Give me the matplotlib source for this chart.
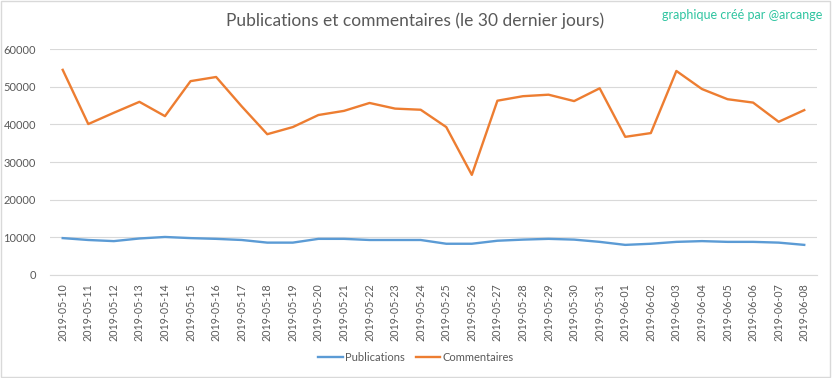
#publications et commentaires - 30 derniers jours
import matplotlib
matplotlib.use('Agg')
import matplotlib.pyplot as plt

dates = ['2019-05-10', '2019-05-11', '2019-05-12', '2019-05-13', '2019-05-14',
         '2019-05-15', '2019-05-16', '2019-05-17', '2019-05-18', '2019-05-19',
         '2019-05-20', '2019-05-21', '2019-05-22', '2019-05-23', '2019-05-24',
         '2019-05-25', '2019-05-26', '2019-05-27', '2019-05-28', '2019-05-29',
         '2019-05-30', '2019-05-31', '2019-06-01', '2019-06-02', '2019-06-03',
         '2019-06-04', '2019-06-05', '2019-06-06', '2019-06-07', '2019-06-08']

publications = [9800, 9300, 9000, 9700, 10100, 9800, 9600, 9300, 8600, 8600,
                9600, 9600, 9300, 9300, 9300, 8300, 8300, 9100, 9400, 9600,
                9400, 8800, 8000, 8300, 8800, 9000, 8800, 8800, 8600, 8000]

commentaires = [54500, 40100, 43100, 46000, 42200, 51500, 52600, 44800, 37400, 39300,
                42500, 43600, 45700, 44200, 43900, 39300, 26600, 46300, 47500, 47900,
                46200, 49600, 36700, 37700, 54200, 49400, 46700, 45800, 40700, 43800]

yticks = [0, 10000, 20000, 30000, 40000, 50000, 60000]

plt.rcParams['font.family'] = ['Lato', 'DejaVu Sans']

fig = plt.figure(figsize=(8.32, 3.78), dpi=100)
ax = fig.add_axes([0.060, 0.2725, 0.922, 0.5975])

x = list(range(len(dates)))
ax.plot(x, publications, color='#5b9bd5', lw=1.7, label='Publications')
ax.plot(x, commentaires, color='#ed7d31', lw=1.7, label='Commentaires')

ax.set_xlim(-0.5, len(dates) - 0.5)
ax.set_ylim(0, 60000)
ax.set_yticks(yticks)
ax.set_yticklabels([str(v) for v in yticks])
ax.set_xticks(x)
ax.set_xticklabels(dates, rotation=90)
ax.tick_params(axis='both', length=0, labelsize=8, labelcolor='#595959')
ax.tick_params(axis='x', labelsize=7.7, pad=6)
ax.tick_params(axis='y', pad=10)

ax.grid(axis='y', color='#d9d9d9', lw=0.8)
ax.set_axisbelow(True)
for s in ['top', 'right', 'left']:
    ax.spines[s].set_visible(False)
ax.spines['bottom'].set_color('#d9d9d9')

fig.text(0.499, 0.945, 'Publications et commentaires (le 30 dernier jours)',
         ha='center', va='center', fontsize=12.5, color='#595959')
fig.text(0.988, 0.96, 'graphique créé par @arcange',
         ha='right', va='center', fontsize=9, color='#2ec4a0')

fig.legend(loc='center', bbox_to_anchor=(0.5, 0.055), ncol=2, frameon=False,
           fontsize=8, labelcolor='#595959', handlelength=2.2, columnspacing=1.0,
           handletextpad=0.2)

# chart border
fig.patches.append(plt.Rectangle((0.001, 0.002), 0.997, 0.995, transform=fig.transFigure,
                                 fill=False, edgecolor='#d9d9d9', lw=1))

fig.savefig('out.png', dpi=100)
